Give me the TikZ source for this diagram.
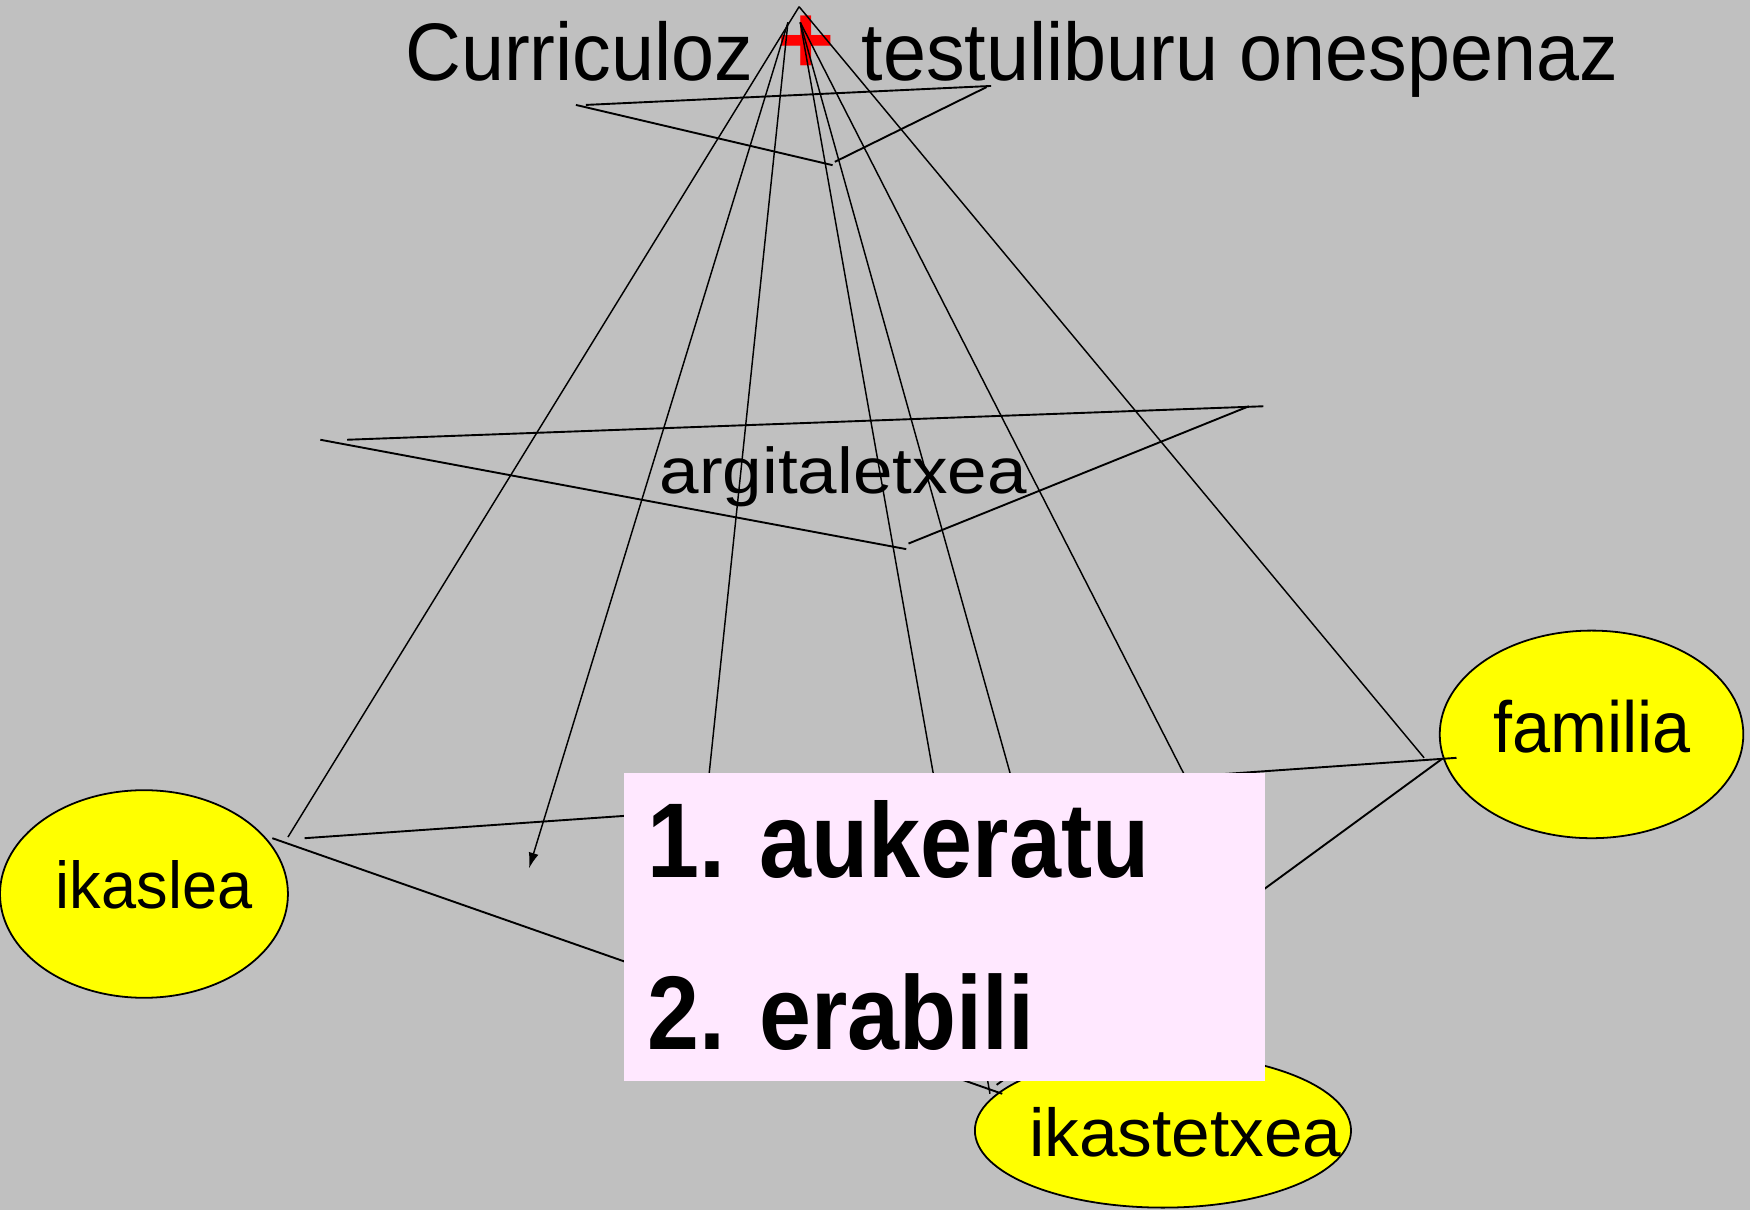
\documentclass[tikz,border=0pt]{standalone}
\usepackage{fontspec}
\setmainfont{Liberation Sans}
\usetikzlibrary{shapes.geometric,arrows.meta}
\definecolor{bg}{RGB}{192,192,192}
\definecolor{boxpink}{RGB}{255,232,255}
\definecolor{ovalyellow}{RGB}{255,255,0}
\definecolor{plusred}{RGB}{255,0,0}
\newcommand\fitt[3]{\resizebox{#1pt}{#2pt}{#3}}
\begin{document}
\begin{tikzpicture}[x=0.5pt,y=-0.5pt,
  txt/.style={inner sep=0pt,outer sep=0pt,anchor=base west,font=\fontsize{30}{36}\selectfont},
  btxt/.style={txt,font=\fontsize{30}{36}\selectfont\bfseries},
  oval/.style={ellipse,draw=black,line width=0.8pt,fill=ovalyellow,inner sep=0pt},
  ray/.style={draw=black,line width=0.65pt},
  star/.style={draw=black,line width=0.85pt}]
\fill[bg] (0,0) rectangle (1568,1084);
\useasboundingbox (0,0) rectangle (1568,1084);

% title
\node[txt] (tleft) at (363,72) {\fitt{156}{26.5}{Curriculoz}};
\node[inner sep=0pt,text=plusred,font=\fontsize{44}{48}\selectfont\bfseries] (plus) at (722,40) {+};
\node[txt] (tright) at (772,72) {\fitt{339}{26.5}{testuliburu onespenaz}};

% ellipses
\node[oval,minimum width=129pt,minimum height=93pt] (ikaslea) at (129,801) {};
\node[oval,minimum width=136pt,minimum height=93pt] (familia) at (1426,658) {};
\node[oval,minimum width=168.5pt,minimum height=69pt] (ikastetxea) at (1042,1013) {};
\node[txt] (ikasleaT) at (50,814) {\fitt{88}{21.5}{ikaslea}};
\node[txt] (familiaT) at (1338,674) {\fitt{88.5}{23.5}{familia}};
\node[txt] (ikastetxeaT) at (922,1036.5) {\fitt{140}{22}{ikastetxea}};

% publisher label
\node[txt] (argi) at (591,442) {\fitt{164.5}{21}{argitaletxea}};

% coordinates
\coordinate (apex) at (716,6);
\coordinate (srcA) at (706,20);
\coordinate (srcB) at (717,20);
\coordinate (e1) at (258,750);
\coordinate (e2) at (1276,679);
\coordinate (e3) at (474,778);
\coordinate (e4) at (620,840);
\coordinate (e5) at (887,980);
\coordinate (e6) at (949,850);
\coordinate (e7) at (1105,780);
% top star
\coordinate (ts1) at (525,94);  \coordinate (ts2) at (888,77);
\coordinate (ts3) at (516,94);  \coordinate (ts4) at (746,148);
\coordinate (ts5) at (748,145); \coordinate (ts6) at (884,78);
% middle star
\coordinate (ms1) at (311,394); \coordinate (ms2) at (1132,364);
\coordinate (ms3) at (287,394); \coordinate (ms4) at (812,492);
\coordinate (ms5) at (814,487); \coordinate (ms6) at (1119,364);
% bottom star
\coordinate (bs1) at (273,751); \coordinate (bs2) at (1305,679);
\coordinate (bs3) at (244,751); \coordinate (bs4) at (898,980);
\coordinate (bs5) at (1292,680); \coordinate (bs6) at (893,972);

% rays from apex
\draw[ray] (apex) -- (e1);
\draw[ray] (apex) -- (e2);
\draw[ray,-{Latex[length=7pt,width=4.5pt]}] (srcA) -- (e3);
\draw[ray] (srcA) -- (e4);
\draw[ray] (srcB) -- (e5);
\draw[ray] (srcB) -- (e6);
\draw[ray] (srcB) -- (e7);

% stars
\draw[star] (ts1) -- (ts2);
\draw[star] (ts3) -- (ts4);
\draw[star] (ts5) -- (ts6);
\draw[star] (ms1) -- (ms2);
\draw[star] (ms3) -- (ms4);
\draw[star] (ms5) -- (ms6);
\draw[star] (bs1) -- (bs2);
\draw[star] (bs3) -- (bs4);
\draw[star] (bs5) -- (bs6);

% box
\node[fill=boxpink,inner sep=0pt,minimum width=287pt,minimum height=138pt] (steps) at (846,831) {};
\node[btxt] (step1) at (580,786) {\fitt{225}{34.5}{1. aukeratu}};
\node[btxt] (step2) at (580,940) {\fitt{173.5}{34}{2. erabili}};
\end{tikzpicture}
\end{document}
